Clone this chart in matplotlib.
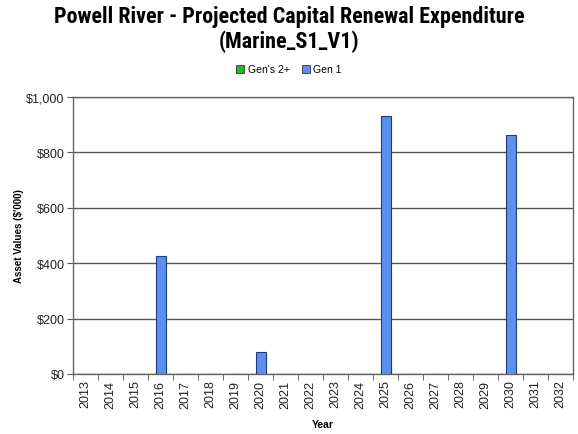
import matplotlib.pyplot as plt
import numpy as np
from matplotlib.patches import Patch

# data
years = [str(y) for y in range(2013, 2033)]
gen1 = [0, 0, 0, 426, 0, 0, 0, 79, 0, 0, 0, 0, 931, 0, 0, 0, 0, 863, 0, 0]
gen2 = [0] * 20
yticks = [0, 200, 400, 600, 800, 1000]

plt.rcParams['font.family'] = ['Liberation Sans', 'DejaVu Sans']

fig = plt.figure(figsize=(5.78, 4.35), dpi=100)
ax = fig.add_axes([73 / 578, 1 - 375 / 435, 500 / 578, 277 / 435])

x = np.arange(len(years))
ax.bar(x, gen1, width=0.4, color='#5b8ff0', edgecolor='#1f3a78', linewidth=0.8,
       zorder=3)
ax.bar(x, gen2, bottom=gen1, width=0.4, color='#22bb22', edgecolor='#1f3a78',
       linewidth=0.0, zorder=3)

ax.set_xlim(-0.5, len(years) - 0.5)
ax.set_ylim(0, 1000)
ax.set_yticks(yticks)
ax.set_yticklabels(['${:,}'.format(v) for v in yticks], fontsize=9, color='#222222')
ax.set_xticks(x)
ax.set_xticklabels(years, rotation=90, fontsize=9, color='#222222')
ax.set_xticks(np.arange(-0.5, len(years), 1), minor=True)
ax.tick_params(axis='x', which='major', length=0, pad=4)
ax.tick_params(axis='x', which='minor', length=4, color='#555555')
ax.tick_params(axis='y', length=4, color='#555555', pad=2)

ax.grid(axis='y', color='#555555', linewidth=1.0, zorder=1)
for s in ax.spines.values():
    s.set_color('#666666')
    s.set_linewidth(1.0)

ax.set_xlabel('Year', fontsize=7.5, fontweight='bold', labelpad=8)
ax.set_ylabel("Asset Values ($'000)", fontsize=7, fontweight='bold', labelpad=2)

# title
fig.text(0.5, 0.932, 'Powell River - Projected Capital Renewal Expenditure\n(Marine_S1_V1)',
         ha='center', va='center', fontsize=15.8, fontweight='bold',
         family=['Roboto Condensed', 'Roboto', 'DejaVu Sans'], linespacing=1.1)

handles = [Patch(facecolor='#22bb22', edgecolor='#333333', linewidth=0.6, label="Gen's 2+"),
           Patch(facecolor='#5b8ff0', edgecolor='#333333', linewidth=0.6, label='Gen 1')]
fig.legend(handles=handles, loc='center', bbox_to_anchor=(0.5, 0.838), ncol=2,
           frameon=False, fontsize=7.5, handlelength=0.8, handleheight=0.8,
           handletextpad=0.3, columnspacing=1.2)

plt.savefig('out.png', dpi=100)
